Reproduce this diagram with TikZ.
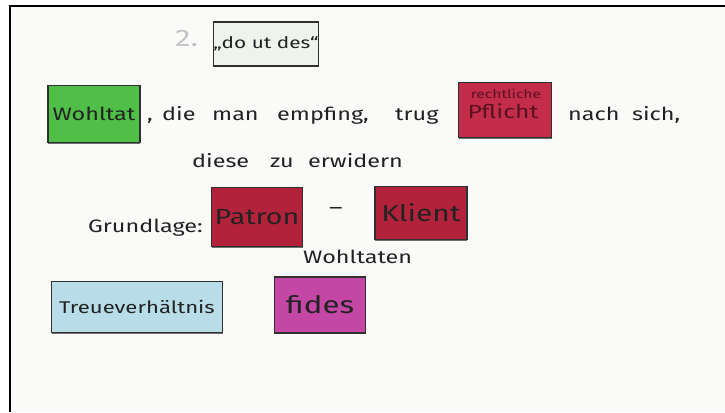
\documentclass[tikz,border=0pt]{standalone}
\usepackage{fontspec}
\setmainfont[FakeStretch=1.3]{Fira Sans}
\usetikzlibrary{shadows}
\definecolor{ink}{HTML}{222222}
\definecolor{boardbg}{HTML}{FAFBF9}
\definecolor{frameline}{HTML}{303030}
\definecolor{cwhite}{HTML}{EEF3EC}
\definecolor{cgreen}{HTML}{4FBF47}
\definecolor{cpflicht}{HTML}{C42D49}
\definecolor{cred}{HTML}{B2223B}
\definecolor{cblue}{HTML}{B8DDE9}
\definecolor{cmagenta}{HTML}{C447A6}
\definecolor{cgray}{HTML}{C4C4C4}
\definecolor{cmaroon}{HTML}{5A1222}
\newcommand{\fsz}[1]{\fontsize{#1}{#1}\selectfont}
\tikzset{
  card/.style={draw=frameline, line width=1.3pt, rectangle, inner sep=0pt,
    drop shadow={shadow xshift=0pt, shadow yshift=-1.4pt, fill=black!70, opacity=0.8},
    text=ink},
  word/.style={anchor=base west, inner sep=0pt, text=ink, font=\fsz{18}},
}
\begin{document}
\begin{tikzpicture}[x=1pt,y=-1pt]
\useasboundingbox (0,0) rectangle (725,412);
\fill[white] (0,0) rectangle (725,412);
\fill[boardbg] (10,6) rectangle (725,412);
\draw[black, line width=2.5pt] (10,412) -- (10,6) -- (725,6);

% title
\node[anchor=base west, inner sep=0pt, text=cgray, font=\fsz{24}] (num) at (175,47) {2.};
\node[card, fill=cwhite, minimum width=105pt, minimum height=44pt, font=\fsz{16}] (doutdes) at (266,44) {„do ut des“};

% row 1
\node[card, fill=cgreen, minimum width=92pt, minimum height=57pt, font=\fsz{18}] (wohltat) at (94,114) {Wohltat};
\node[word] (w1) at (147,120) {,};
\node[word] (w2) at (162,120) {die};
\node[word] (w3) at (212,120) {man};
\node[word] (w4) at (277,120) {empfing,};
\node[word] (w5) at (395,120) {trug};
\node[card, fill=cpflicht, minimum width=93pt, minimum height=55pt] (pflicht) at (505,110) {};
\node[inner sep=0pt, text=cmaroon, font=\fsz{12}] (rechtl) at (506,94) {rechtliche};
\node[inner sep=0pt, text=cmaroon, font=\fsz{19}] (pfl) at (503,111) {Pflicht};
\node[word] (w6) at (568,120) {nach};
\node[word] (w7) at (632,120) {sich,};

% row 2
\node[word] (w8) at (192,167) {diese};
\node[word] (w9) at (270,167) {zu};
\node[word] (w10) at (308,167) {erwidern};

% row 3
\node[word] (grund) at (88,232) {Grundlage:};
\node[card, fill=cred, minimum width=91pt, minimum height=59pt, font=\fsz{22}] (patron) at (257,217) {Patron};
\node[inner sep=0pt, text=ink, font=\fsz{20}] (dash) at (336,211) {–};
\node[card, fill=cred, minimum width=92pt, minimum height=53pt, font=\fsz{23}] (klient) at (421,213) {Klient};
\node[word] (wohltaten) at (303,263) {Wohltaten};

% row 4
\node[card, fill=cblue, minimum width=171pt, minimum height=51pt, font=\fsz{17}] (treue) at (137,307) {Treueverhältnis};
\node[card, fill=cmagenta, minimum width=91pt, minimum height=56pt, font=\fsz{24}] (fides) at (320,305) {fides};
\end{tikzpicture}
\end{document}
